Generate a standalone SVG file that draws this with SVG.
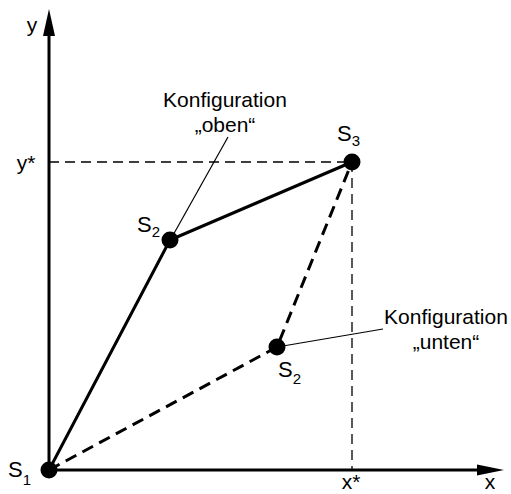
<svg xmlns="http://www.w3.org/2000/svg" width="511" height="494" viewBox="0 0 511 494">
<style>
text{font-family:"Liberation Sans",Arial,sans-serif;fill:#000;font-size:21px}
.s{font-size:22px}
.sub{font-size:15px}
.lbl{text-anchor:middle}
.axis{stroke:#000;stroke-width:3;fill:none}
.link{stroke:#000;stroke-width:3;fill:none}
.dash{stroke:#000;stroke-width:3;fill:none;stroke-dasharray:12 7}
.guide{stroke:#000;stroke-width:1.3;fill:none;stroke-dasharray:10 6}
.leader{stroke:#000;stroke-width:1.2;fill:none}
.dot{fill:#000}
</style>
<rect width="511" height="494" fill="#fff"/>
<g id="axes">
<line class="axis" x1="49" y1="470" x2="49" y2="32"/>
<polygon points="49,9 43,36 55,36" fill="#000"/>
<line class="axis" x1="49" y1="470" x2="480" y2="470"/>
<polygon points="504,470 477,464.5 477,475.5" fill="#000"/>
<text class="lbl" x="32" y="32">y</text>
<text class="lbl" x="490" y="489">x</text>
<text class="lbl" x="26" y="170">y*</text>
<text class="lbl" x="351" y="489">x*</text>
</g>
<g id="connectors">
<line class="guide" x1="49" y1="162" x2="352" y2="162"/>
<line class="guide" x1="352" y1="162" x2="352" y2="470"/>
<polyline class="link" points="49,470 170,240 352,162"/>
<polyline class="dash" points="49,470 277,347 352,162"/>
<line class="leader" x1="228" y1="137" x2="172" y2="237"/>
<line class="leader" x1="277" y1="347" x2="383" y2="329"/>
</g>
<g id="S1">
<circle class="dot" cx="49" cy="470" r="8.5"/>
<text class="s" x="8" y="477">S<tspan class="sub" dy="8">1</tspan></text>
</g>
<g id="S2_oben">
<circle class="dot" cx="170" cy="240" r="8.5"/>
<text class="s" x="137" y="232">S<tspan class="sub" dy="5">2</tspan></text>
</g>
<g id="S2_unten">
<circle class="dot" cx="277" cy="347" r="8.5"/>
<text class="s" x="278" y="377">S<tspan class="sub" dy="7">2</tspan></text>
</g>
<g id="S3">
<circle class="dot" cx="352" cy="162" r="8.5"/>
<text class="s" x="337" y="141">S<tspan class="sub" dy="5">3</tspan></text>
</g>
<g id="label_oben">
<text class="lbl" x="225" y="107">Konfiguration</text>
<text class="lbl" x="225" y="132">„oben“</text>
</g>
<g id="label_unten">
<text class="lbl" x="446" y="324">Konfiguration</text>
<text class="lbl" x="446" y="349">„unten“</text>
</g>
</svg>
